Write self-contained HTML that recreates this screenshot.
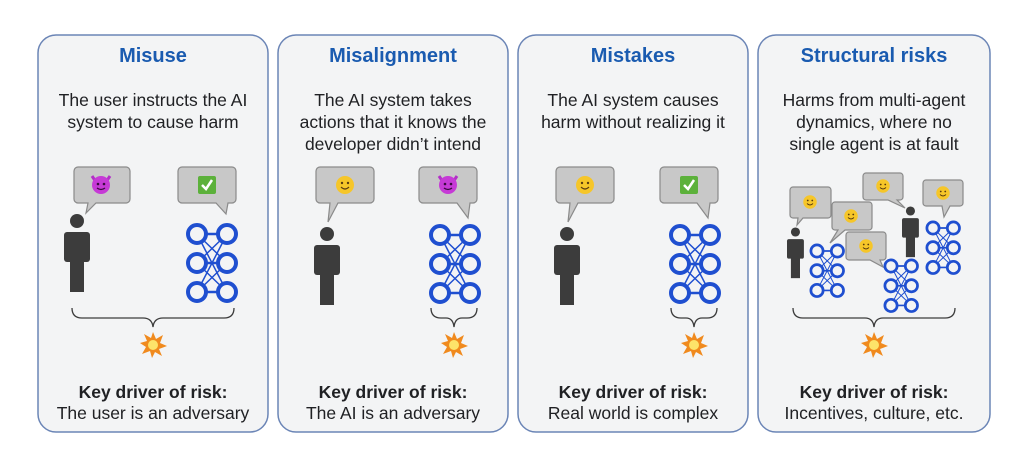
<!DOCTYPE html>
<html><head><meta charset="utf-8"><style>
html,body{margin:0;padding:0;background:#fff}
svg{display:block}
text{font-family:"Liberation Sans",sans-serif;fill:#202124}
.t{font-size:20px;font-weight:bold;fill:#1a5bb0}
.d{font-size:17.5px}
.k{font-size:17.5px;font-weight:bold}
</style></head><body>
<svg width="1024" height="461" viewBox="0 0 1024 461" xmlns="http://www.w3.org/2000/svg">
<defs>
<g id="net" fill="none" stroke="#1f4fd0" stroke-width="4">
<path d="M0,0L30,29M30,0L0,29M0,29L30,58M30,29L0,58M0,0L30,58M30,0L0,58" stroke-width="1.5"/>
<path d="M0,0H30M0,29H30M0,58H30" stroke-width="2.5"/>
<circle cx="0" cy="0" r="9" fill="#f3f4f5"/><circle cx="30" cy="0" r="9" fill="#f3f4f5"/>
<circle cx="0" cy="29" r="9" fill="#f3f4f5"/><circle cx="30" cy="29" r="9" fill="#f3f4f5"/>
<circle cx="0" cy="58" r="9" fill="#f3f4f5"/><circle cx="30" cy="58" r="9" fill="#f3f4f5"/>
</g>
<g id="person" fill="#3c3c3c">
<circle cx="13" cy="0" r="7"/><rect x="0" y="11" width="26" height="30" rx="3"/><rect x="6" y="38" width="14" height="33"/>
</g>
<g id="smile"><circle r="9" fill="#f6c629"/><circle cx="-3" cy="-2" r="1.2" fill="#5a3c10"/><circle cx="3" cy="-2" r="1.2" fill="#5a3c10"/><path d="M-4,2Q0,6 4,2" stroke="#5a3c10" stroke-width="1.2" fill="none"/></g>
<g id="devil"><path d="M-9,-9L-5,-3M9,-9L5,-3" stroke="#b42fc8" stroke-width="3"/><circle r="9" fill="#c63ad6"/><circle cx="-3" cy="-1" r="1.3" fill="#3a0a40"/><circle cx="3" cy="-1" r="1.3" fill="#3a0a40"/><path d="M-4,3Q0,6 4,3" stroke="#3a0a40" stroke-width="1.3" fill="none"/></g>
<g id="check"><rect x="-9" y="-9" width="18" height="18" rx="2" fill="#5cb13b"/><path d="M-5,0L-1,4L5,-5" stroke="#fff" stroke-width="2.5" fill="none"/></g>
<g id="boom"><path d="M0,-13L3,-6L10,-10L7,-2L14,1L6,4L9,11L2,7L-1,13L-3,6L-11,9L-7,2L-13,-2L-6,-4L-9,-11L-2,-7Z" fill="#f08a1e"/><circle r="5" fill="#fde36a"/></g>
</defs>
<g fill="#f3f4f5" stroke="#6b85b6" stroke-width="1.5">
<rect x="38" y="35" width="230" height="397" rx="18"/>
<rect x="278" y="35" width="230" height="397" rx="18"/>
<rect x="518" y="35" width="230" height="397" rx="18"/>
<rect x="758" y="35" width="232" height="397" rx="18"/>
</g>
<g text-anchor="middle">
<text class="t" x="153" y="62">Misuse</text>
<text class="d" x="153" y="106">The user instructs the AI</text><text class="d" x="153" y="128">system to cause harm</text>
<text class="k" x="153" y="398">Key driver of risk:</text><text class="d" x="153" y="419">The user is an adversary</text>
<text class="t" x="393" y="62">Misalignment</text>
<text class="d" x="393" y="106">The AI system takes</text><text class="d" x="393" y="128">actions that it knows the</text><text class="d" x="393" y="150">developer didn’t intend</text>
<text class="k" x="393" y="398">Key driver of risk:</text><text class="d" x="393" y="419">The AI is an adversary</text>
<text class="t" x="633" y="62">Mistakes</text>
<text class="d" x="633" y="106">The AI system causes</text><text class="d" x="633" y="128">harm without realizing it</text>
<text class="k" x="633" y="398">Key driver of risk:</text><text class="d" x="633" y="419">Real world is complex</text>
<text class="t" x="874" y="62">Structural risks</text>
<text class="d" x="874" y="106">Harms from multi-agent</text><text class="d" x="874" y="128">dynamics, where no</text><text class="d" x="874" y="150">single agent is at fault</text>
<text class="k" x="874" y="398">Key driver of risk:</text><text class="d" x="874" y="419">Incentives, culture, etc.</text>
</g>
<g fill="#c8c8c8" stroke="#8a8a8a" stroke-width="1.2">
<path d="M78,167H126a4,4 0 0 1 4,4V199a4,4 0 0 1-4,4H96L86,213L88,203H78a4,4 0 0 1-4-4V171a4,4 0 0 1 4-4Z"/>
<path d="M182,167H232a4,4 0 0 1 4,4V199a4,4 0 0 1-4,4H228L226,214L216,203H182a4,4 0 0 1-4-4V171a4,4 0 0 1 4-4Z"/>
<path d="M320,167H370a4,4 0 0 1 4,4V199a4,4 0 0 1-4,4H338L328,222L330,203H320a4,4 0 0 1-4-4V171a4,4 0 0 1 4-4Z"/>
<path d="M423,167H473a4,4 0 0 1 4,4V199a4,4 0 0 1-4,4H470L468,218L457,203H423a4,4 0 0 1-4-4V171a4,4 0 0 1 4-4Z"/>
<path d="M560,167H610a4,4 0 0 1 4,4V199a4,4 0 0 1-4,4H578L568,222L570,203H560a4,4 0 0 1-4-4V171a4,4 0 0 1 4-4Z"/>
<path d="M664,167H714a4,4 0 0 1 4,4V199a4,4 0 0 1-4,4H710L708,218L697,203H664a4,4 0 0 1-4-4V171a4,4 0 0 1 4-4Z"/>
<path d="M793,187H828a3,3 0 0 1 3,3V215a3,3 0 0 1-3,3H803L797,225L798,218H793a3,3 0 0 1-3-3V190a3,3 0 0 1 3-3Z"/>
<path d="M835,202H869a3,3 0 0 1 3,3V227a3,3 0 0 1-3,3H845L830,243L838,230H835a3,3 0 0 1-3-3V205a3,3 0 0 1 3-3Z"/>
<path d="M849,232H883a3,3 0 0 1 3,3V257a3,3 0 0 1-3,3H880L883,267L870,260H849a3,3 0 0 1-3-3V235a3,3 0 0 1 3-3Z"/>
<path d="M866,173H900a3,3 0 0 1 3,3V197a3,3 0 0 1-3,3H897L905,208L888,200H866a3,3 0 0 1-3-3V176a3,3 0 0 1 3-3Z"/>
<path d="M926,180H960a3,3 0 0 1 3,3V203a3,3 0 0 1-3,3H950L944,217L942,206H926a3,3 0 0 1-3-3V183a3,3 0 0 1 3-3Z"/>
</g>
<use href="#devil" x="101" y="185"/>
<use href="#check" x="207" y="185"/>
<use href="#smile" x="345" y="185"/>
<use href="#devil" x="448" y="185"/>
<use href="#smile" x="585" y="185"/>
<use href="#check" x="689" y="185"/>
<g transform="translate(810,202) scale(.75)"><use href="#smile"/></g>
<g transform="translate(851,216) scale(.75)"><use href="#smile"/></g>
<g transform="translate(866,246) scale(.75)"><use href="#smile"/></g>
<g transform="translate(883,186) scale(.75)"><use href="#smile"/></g>
<g transform="translate(943,193) scale(.75)"><use href="#smile"/></g>
<use href="#person" x="64" y="221"/>
<use href="#person" x="314" y="234"/>
<use href="#person" x="554" y="234"/>
<g transform="translate(787,232) scale(.65)"><use href="#person"/></g>
<g transform="translate(902,211) scale(.65)"><use href="#person"/></g>
<use href="#net" x="197" y="234"/>
<use href="#net" x="440" y="235"/>
<use href="#net" x="680" y="235"/>
<g transform="translate(817,251) scale(.68)"><use href="#net"/></g>
<g transform="translate(891,266) scale(.68)"><use href="#net"/></g>
<g transform="translate(933,228) scale(.68)"><use href="#net"/></g>
<g fill="none" stroke="#3c3c3c" stroke-width="1.3">
<path d="M72,308Q72,318 82,318H143Q152,318 153,327Q154,318 163,318H224Q234,318 234,308"/>
<path d="M431,308Q431,318 441,318H446Q453,318 454,327Q455,318 462,318H467Q477,318 477,308"/>
<path d="M671,308Q671,318 681,318H686Q693,318 694,327Q695,318 702,318H707Q717,318 717,308"/>
<path d="M793,308Q793,318 803,318H865Q873,318 874,327Q875,318 883,318H945Q955,318 955,308"/>
</g>
<use href="#boom" x="153" y="345"/>
<use href="#boom" x="454" y="345"/>
<use href="#boom" x="694" y="345"/>
<use href="#boom" x="874" y="345"/>
</svg>
</body></html>
